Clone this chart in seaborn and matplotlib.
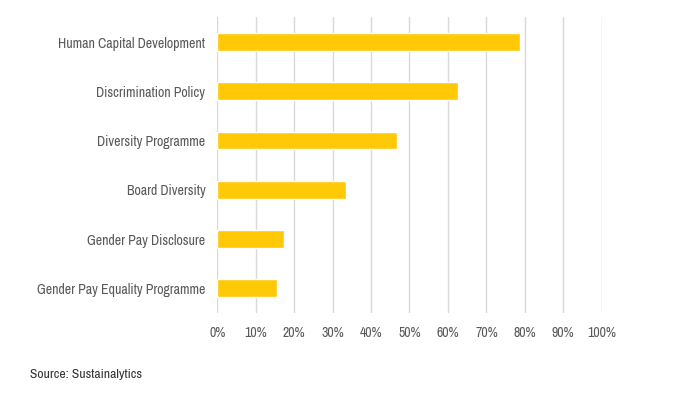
import matplotlib
matplotlib.use("Agg")
import matplotlib.pyplot as plt
import seaborn as sns
import pandas as pd
from matplotlib.ticker import PercentFormatter

categories = ["Human Capital Development", "Discrimination Policy", "Diversity Programme",
              "Board Diversity", "Gender Pay Disclosure", "Gender Pay Equality Programme"]
values = [78.7, 62.6, 46.8, 33.5, 17.4, 15.5]
xticks = [0, 10, 20, 30, 40, 50, 60, 70, 80, 90, 100]

sns.set_theme(style="white")
plt.rcParams['font.family'] = ['Archivo Narrow', 'DejaVu Sans']

df = pd.DataFrame({"cat": categories, "val": values})

fig = plt.figure(figsize=(6.85, 3.95), dpi=100)
ax = fig.add_axes([0.3172, 0.2076, 0.5612, 0.7484])
sns.barplot(data=df, x="val", y="cat", color="#FFC907", width=0.36, ax=ax, saturation=1)

ax.set_xlim(0, 100)
ax.set_xticks(xticks)
ax.xaxis.set_major_formatter(PercentFormatter(decimals=0))
ax.grid(axis="x", color="#d9d9d9", linewidth=1)
ax.set_axisbelow(True)
for s in ax.spines.values():
    s.set_visible(False)
ax.set_xlabel("")
ax.set_ylabel("")
ax.tick_params(axis="both", length=0, labelsize=10, colors="#595959")
ax.tick_params(axis="x", pad=9.5)
ax.tick_params(axis="y", pad=8.5)

fig.text(30/685, 1-375/395, "Source: Sustainalytics", fontsize=9.8, color="#333333", va="center", ha="left")

fig.savefig("out.png", dpi=100)
